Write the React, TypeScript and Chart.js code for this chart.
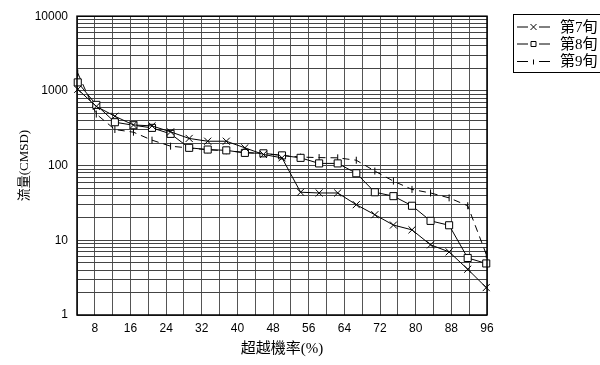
import React, { useEffect, useRef } from 'react';
import { Chart, registerables } from 'chart.js';

Chart.register(...registerables);

// Exceedance probability (%) of each ranked value
const probabilities = [4.17, 8.33, 12.5, 16.67, 20.83, 25, 29.17, 33.33, 37.5, 41.67, 45.83, 50, 54.17, 58.33, 62.5, 66.67, 70.83, 75, 79.17, 83.33, 87.5, 91.67, 95.83];

// Flow (CMSD)
const flow7 = [1050, 620, 458, 350, 340, 283, 231, 212, 212, 173, 141, 127, 44, 43, 43, 30, 22, 16, 13.8, 8.7, 7.0, 4.1, 2.33];
const flow8 = [1300, 650, 381, 347, 320, 266, 173, 164, 160, 148, 146, 137, 127, 107, 107, 79, 44, 39, 29, 18.2, 15.9, 5.8, 4.9];
const flow9 = [1730, 490, 304, 280, 219, 182, 172, 163, 158, 150, 145, 137, 130, 128, 127, 118, 84.5, 62, 48, 43, 37, 29, 6.5];

const seriesNames = ['第7旬', '第8旬', '第9旬'];
const yDecades = [1, 10, 100, 1000, 10000];
const xMin = 4;
const xMax = 96;
const xStep = 4;
const xLabelEvery = 8;

const xTitle = '超越機率(%)';
const yTitle = '流量(CMSD)';

const serifCJK = '"Liberation Serif", "Noto Sans CJK TC", serif';
const sansFont = '"Liberation Sans", Arial, sans-serif';

const toPoints = (ys: number[]) => ys.map((y, i) => ({ x: probabilities[i], y }));

const markerStyles = [
  { pointStyle: 'crossRot', radius: 5, rotation: 0, dash: [] as number[] },
  { pointStyle: 'rect', radius: 5, rotation: 0, dash: [] as number[] },
  { pointStyle: 'line', radius: 3.5, rotation: 90, dash: [7, 5] },
];

const frameAndLegend = {
  id: 'frameAndLegend',
  afterDatasetsDraw(chart: any) {
    const { ctx, chartArea } = chart;
    ctx.save();
    // plot frame
    ctx.strokeStyle = '#000';
    ctx.lineWidth = 1.5;
    ctx.strokeRect(chartArea.left, chartArea.top, chartArea.right - chartArea.left, chartArea.bottom - chartArea.top);

    // legend box
    const bx = 513.5, by = 14.5, bw = 100, bh = 58;
    ctx.lineWidth = 1;
    ctx.fillStyle = '#fff';
    ctx.fillRect(bx, by, bw, bh);
    ctx.strokeRect(bx, by, bw, bh);
    const rows = [27, 44, 61.5];
    chart.data.datasets.forEach((ds: any, i: number) => {
      const y = rows[i];
      ctx.strokeStyle = '#000';
      ctx.lineWidth = 1;
      ctx.setLineDash([]);
      ctx.beginPath();
      ctx.moveTo(517, y);
      ctx.lineTo(528, y);
      ctx.moveTo(539, y);
      ctx.lineTo(550, y);
      ctx.stroke();
      const m = markerStyles[i];
      ctx.beginPath();
      if (m.pointStyle === 'crossRot') {
        ctx.moveTo(530.5, y - 3); ctx.lineTo(536.5, y + 3);
        ctx.moveTo(536.5, y - 3); ctx.lineTo(530.5, y + 3);
      } else if (m.pointStyle === 'rect') {
        ctx.rect(531, y - 2.5, 5, 5);
      } else {
        ctx.moveTo(533.5, y - 2); ctx.lineTo(533.5, y + 3);
      }
      ctx.stroke();
      ctx.fillStyle = '#000';
      ctx.font = '15px ' + serifCJK;
      ctx.textBaseline = 'middle';
      ctx.textAlign = 'left';
      ctx.fillText(ds.label, 560, y + 1);
    });
    ctx.restore();
  },
};

export default function App() {
  const canvasRef = useRef<HTMLCanvasElement | null>(null);

  useEffect(() => {
    document.body.style.margin = '0';
    const canvas = canvasRef.current;
    if (!canvas) return;
    const seriesData = [flow7, flow8, flow9];
    const chart = new Chart(canvas, {
      type: 'line',
      data: {
        datasets: seriesData.map((ys, i) => ({
          label: seriesNames[i],
          data: toPoints(ys),
          borderColor: '#000',
          backgroundColor: '#fff',
          borderWidth: 1,
          borderDash: markerStyles[i].dash,
          pointStyle: markerStyles[i].pointStyle as any,
          pointRotation: markerStyles[i].rotation,
          pointRadius: markerStyles[i].radius,
          pointBorderColor: '#000',
          pointBackgroundColor: '#fff',
          pointBorderWidth: 1,
          tension: 0,
          clip: false as any,
        })),
      },
      options: {
        responsive: false,
        animation: false,
        devicePixelRatio: 1,
        layout: { padding: { top: 15, right: 113, bottom: 0, left: 0 } },
        plugins: {
          legend: { display: false },
          tooltip: { enabled: false },
        },
        scales: {
          x: {
            type: 'linear',
            min: xMin,
            max: xMax,
            afterFit: (s: any) => { s.height = 50; },
            afterBuildTicks: (s: any) => {
              const t = [];
              for (let v = xMin; v <= xMax; v += xStep) t.push({ value: v });
              s.ticks = t;
            },
            ticks: {
              autoSkip: false,
              maxRotation: 0,
              padding: 6,
              color: '#000',
              font: { family: sansFont, size: 12 },
              callback: (v: any) => (Number(v) % xLabelEvery === 0 && Number(v) > xMin ? String(v) : ''),
            },
            grid: { color: '#555', lineWidth: 1, drawTicks: false },
            border: { display: false },
            title: {
              display: true,
              text: xTitle,
              color: '#000',
              font: { family: serifCJK, size: 15 },
              padding: { top: 0, bottom: 7 },
            },
          },
          y: {
            type: 'logarithmic',
            min: yDecades[0],
            max: yDecades[yDecades.length - 1],
            afterFit: (s: any) => { s.width = 77; },
            afterBuildTicks: (s: any) => {
              const t: any[] = [];
              for (let d = 0; d < yDecades.length - 1; d++) {
                for (let k = 1; k <= 9; k++) t.push({ value: yDecades[d] * k });
              }
              t.push({ value: yDecades[yDecades.length - 1] });
              s.ticks = t;
            },
            ticks: {
              autoSkip: false,
              padding: 9,
              color: '#000',
              font: { family: sansFont, size: 12 },
              callback: (v: any) => (yDecades.includes(Number(v)) ? String(v) : ''),
            },
            grid: { color: '#444', lineWidth: 1, drawTicks: false },
            border: { display: false },
            title: {
              display: true,
              text: yTitle,
              color: '#000',
              font: { family: serifCJK, size: 13 },
              padding: { top: 17, bottom: 0 },
            },
          },
        },
      },
      plugins: [frameAndLegend],
    });
    return () => chart.destroy();
  }, []);

  return (
    <div style={{ width: 600, height: 365, background: '#fff' }}>
      <canvas ref={canvasRef} width={600} height={365} />
    </div>
  );
}
